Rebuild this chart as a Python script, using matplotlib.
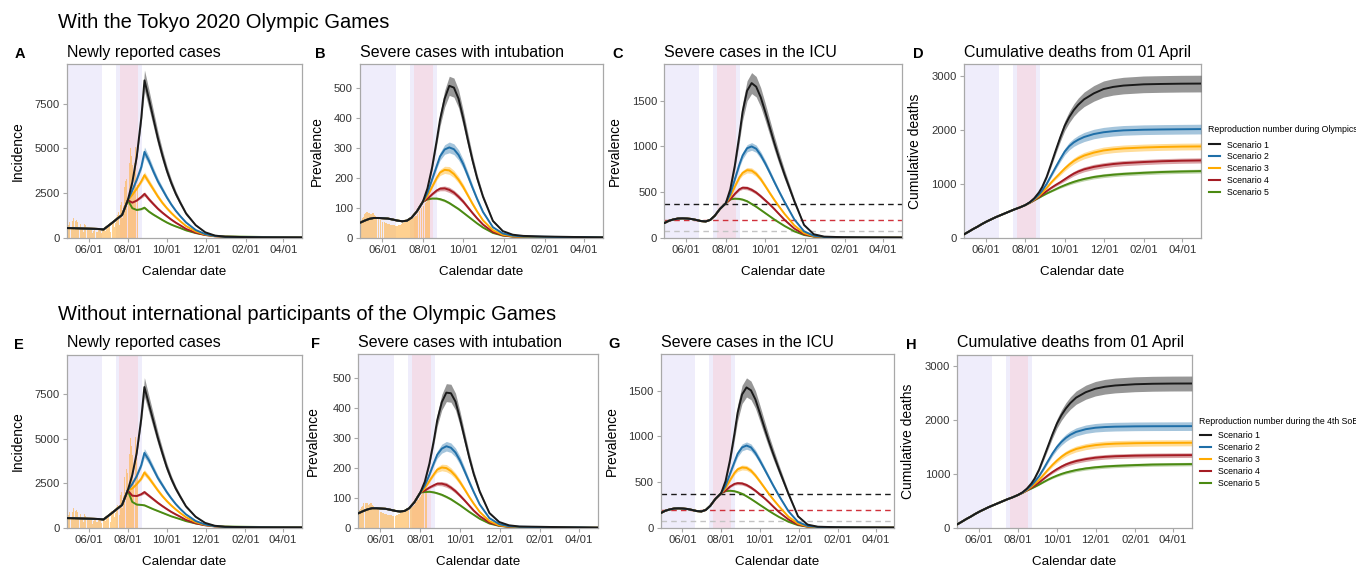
import matplotlib
matplotlib.use('Agg')
import matplotlib.pyplot as plt
import matplotlib.dates as mdates
from matplotlib.lines import Line2D
import numpy as np
import pandas as pd

plt.rcParams['font.family'] = ['Liberation Sans', 'DejaVu Sans']

# ------------------------------------------------------------------ data
pre_dates = ['2021-04-28', '2021-05-05', '2021-05-12', '2021-05-19', '2021-05-26',
             '2021-06-02', '2021-06-09', '2021-06-16', '2021-06-24', '2021-07-01',
             '2021-07-08', '2021-07-15', '2021-07-23']
post_dates = ['2021-08-01', '2021-08-08', '2021-08-15', '2021-08-22', '2021-08-27',
              '2021-09-03', '2021-09-10', '2021-09-17', '2021-09-24', '2021-10-01',
              '2021-10-08', '2021-10-15', '2021-10-22', '2021-10-31', '2021-11-15',
              '2021-11-30', '2021-12-15', '2021-12-31', '2022-01-31', '2022-02-28',
              '2022-03-31', '2022-04-30']
scenarios = ['Scenario 1', 'Scenario 2', 'Scenario 3', 'Scenario 4', 'Scenario 5']

# observed daily new cases (bars in A and E), from 2021-04-28
cases_obs = [925, 1027, 698,
             1050, 879, 708, 609, 621, 591, 907, 1121, 573, 419, 925, 969, 1010, 854, 772, 542,
             419, 732, 766, 843, 618, 535, 521, 340, 743, 597, 684, 614, 539, 411, 260,
             471, 487, 508, 472, 436, 351, 235, 369, 440, 439, 435, 467, 304, 209, 337, 501,
             452, 453, 388, 376, 236, 435, 619, 570, 562, 534, 386, 317, 476, 714,
             673, 660, 716, 518, 342, 593, 920, 896, 822, 950, 614, 502, 830, 1149, 1308, 1271,
             1410, 1008, 727, 1387, 1832, 1979, 1359, 1128, 1763, 1429, 2848, 3177, 3865, 3300, 4058,
             3058, 2195, 3709, 4166, 5042, 4515, 4566, 4066, 2884, 2612, 4200, 4989, 5100, 5094,
             4295, 2962, 4377]
# observed severe cases (bars in B and F), from 2021-04-28
severe_obs = [55, 57, 60,
              63, 66, 70, 74, 78, 82, 84, 86, 85, 84, 83, 82, 80, 78, 79, 80, 82, 84, 80, 76,
              72, 70, 69, 68, 66, 65, 64, 62, 60,
              57, 55, 54, 53, 52, 51, 50, 49, 48, 47, 47, 46, 45, 45, 44, 44, 43, 43, 42, 42,
              41, 40, 40, 39, 39, 40, 41, 42, 43, 44,
              46, 47, 48, 49, 50, 51, 52, 53, 54, 55, 56, 57, 58, 58, 59, 60, 61, 62, 64, 66,
              68, 70, 72, 74, 77, 80, 83, 86, 89, 92, 95,
              98, 101, 104, 107, 110, 113, 116, 118, 120, 122, 124, 126, 128]

# A: newly reported cases, with Olympics
A_pre = [540, 535, 528, 520, 512, 505, 497, 488, 460, 650, 845, 1050, 1270]
A_mid = [[2100, 3100, 4550, 6700, 8800, 7750, 6650, 5550, 4600, 3750, 3050, 2450, 1950, 1350, 700, 300, 120, 55, 35, 25, 18, 12],
         [2100, 2650, 3250, 3950, 4800, 4300, 3700, 3150, 2700, 2250, 1850, 1500, 1200, 850, 430, 200, 95, 50, 35, 25, 18, 12],
         [2100, 2400, 2750, 3150, 3500, 3100, 2700, 2300, 1950, 1650, 1380, 1140, 920, 650, 350, 175, 85, 50, 35, 25, 18, 12],
         [2100, 1960, 2080, 2280, 2450, 2150, 1880, 1620, 1400, 1200, 1010, 840, 690, 490, 280, 150, 80, 50, 38, 28, 20, 14],
         [2100, 1650, 1550, 1600, 1680, 1460, 1290, 1140, 990, 850, 730, 630, 540, 410, 260, 160, 100, 70, 55, 40, 30, 22]]
A_hw = [[0, 40, 120, 300, 580, 520, 450, 380, 320, 260, 210, 170, 130, 100, 50, 25, 10, 5, 3, 2, 2, 1],
        [0, 25, 70, 150, 270, 240, 210, 180, 150, 125, 100, 80, 65, 45, 25, 12, 6, 3, 2, 2, 1, 1],
        [0, 15, 50, 100, 190, 170, 150, 130, 110, 90, 75, 60, 50, 35, 20, 10, 5, 3, 2, 2, 1, 1],
        [0, 10, 35, 70, 120, 110, 95, 85, 75, 65, 55, 45, 38, 28, 15, 8, 4, 3, 2, 2, 1, 1],
        [0, 10, 25, 45, 70, 65, 58, 52, 46, 40, 35, 30, 26, 20, 12, 8, 5, 3, 2, 2, 1, 1]]

# B: severe cases with intubation, with Olympics
B_pre = [50, 57, 63, 66, 66, 65, 64, 61, 57, 55, 57, 67, 88]
B_mid = [[120, 165, 235, 325, 395, 465, 508, 502, 465, 400, 328, 260, 200, 137, 56, 22, 10, 6, 4, 3, 2, 1],
         [120, 150, 195, 240, 272, 295, 302, 296, 277, 247, 208, 168, 130, 86, 35, 14, 7, 4, 3, 2, 2, 1],
         [120, 140, 170, 200, 218, 227, 225, 213, 194, 170, 142, 114, 88, 58, 25, 10, 5, 3, 2, 2, 1, 1],
         [120, 130, 145, 158, 164, 165, 160, 151, 137, 121, 102, 83, 65, 44, 19, 8, 4, 3, 2, 2, 1, 1],
         [120, 128, 131, 131, 129, 124, 116, 106, 96, 84, 72, 60, 48, 34, 16, 7, 4, 3, 2, 2, 1, 1]]
B_hw = [[0, 3, 8, 15, 22, 28, 32, 32, 30, 26, 22, 17, 13, 9, 4, 2, 1, 0, 0, 0, 0, 0],
        [0, 2, 5, 9, 13, 16, 18, 18, 17, 15, 13, 10, 8, 5, 2, 1, 1, 0, 0, 0, 0, 0],
        [0, 1, 4, 7, 10, 12, 13, 12, 11, 10, 8, 7, 5, 3, 2, 1, 0, 0, 0, 0, 0, 0],
        [0, 1, 3, 5, 7, 8, 9, 8, 8, 7, 6, 5, 4, 3, 1, 1, 0, 0, 0, 0, 0, 0],
        [0, 1, 2, 3, 4, 4, 4, 4, 4, 3, 3, 2, 2, 2, 1, 0, 0, 0, 0, 0, 0, 0]]

# C: severe cases in the ICU, with Olympics
C_pre = [160, 185, 200, 210, 212, 210, 205, 195, 182, 178, 195, 240, 315]
C_mid = [[377, 530, 790, 1120, 1380, 1610, 1694, 1655, 1540, 1380, 1210, 1040, 880, 690, 400, 140, 38, 12, 5, 3, 2, 1],
         [377, 480, 640, 800, 900, 980, 1000, 975, 905, 815, 715, 612, 512, 390, 200, 70, 22, 8, 4, 3, 2, 1],
         [377, 450, 560, 660, 710, 740, 735, 700, 642, 567, 490, 415, 345, 260, 135, 50, 17, 7, 4, 3, 2, 1],
         [377, 420, 480, 530, 548, 545, 525, 495, 455, 410, 365, 315, 262, 195, 100, 38, 14, 6, 3, 2, 2, 1],
         [377, 420, 428, 425, 418, 400, 370, 340, 305, 270, 235, 200, 168, 128, 70, 30, 12, 6, 3, 2, 2, 1]]
C_hw = [[0, 15, 40, 70, 95, 110, 115, 112, 105, 95, 85, 75, 65, 52, 30, 10, 3, 1, 0, 0, 0, 0],
        [0, 8, 20, 30, 38, 40, 42, 40, 38, 35, 31, 27, 23, 18, 10, 4, 1, 1, 0, 0, 0, 0],
        [0, 5, 14, 22, 27, 30, 30, 29, 27, 24, 21, 18, 15, 12, 6, 2, 1, 0, 0, 0, 0, 0],
        [0, 4, 10, 15, 18, 20, 20, 19, 18, 16, 14, 12, 10, 8, 4, 2, 1, 0, 0, 0, 0, 0],
        [0, 3, 8, 10, 11, 11, 11, 10, 10, 9, 8, 7, 6, 5, 3, 1, 0, 0, 0, 0, 0, 0]]
C_thresholds = [373, 190, 75]

# D: cumulative deaths, with Olympics
D_pre = [62, 110, 160, 205, 255, 300, 340, 380, 420, 455, 490, 525, 560]
D_mid = [[606, 660, 735, 840, 940, 1130, 1370, 1620, 1860, 2080, 2240, 2370, 2470, 2570, 2680, 2760, 2800, 2825, 2848, 2855, 2860, 2862],
         [606, 655, 720, 800, 875, 1000, 1155, 1310, 1460, 1600, 1700, 1770, 1820, 1870, 1925, 1958, 1978, 1993, 2005, 2010, 2014, 2017],
         [606, 652, 710, 775, 835, 925, 1025, 1115, 1200, 1285, 1360, 1425, 1475, 1525, 1580, 1620, 1642, 1658, 1675, 1685, 1692, 1695],
         [606, 650, 700, 755, 800, 865, 925, 980, 1030, 1085, 1140, 1190, 1230, 1270, 1315, 1345, 1368, 1385, 1405, 1420, 1430, 1435],
         [606, 648, 695, 740, 775, 820, 860, 900, 940, 975, 1008, 1037, 1062, 1090, 1127, 1152, 1170, 1185, 1205, 1220, 1230, 1237]]
D_hw = [[0, 2, 5, 10, 18, 30, 45, 60, 75, 90, 105, 115, 125, 135, 145, 150, 152, 154, 155, 155, 155, 155],
        [0, 2, 4, 8, 12, 20, 30, 40, 50, 60, 70, 75, 80, 85, 88, 90, 90, 90, 90, 90, 90, 90],
        [0, 1, 3, 6, 10, 15, 22, 30, 38, 45, 50, 55, 58, 60, 62, 63, 63, 63, 63, 63, 63, 63],
        [0, 1, 3, 5, 8, 12, 18, 24, 30, 35, 39, 42, 44, 46, 48, 48, 48, 48, 48, 48, 48, 48],
        [0, 1, 2, 4, 6, 9, 13, 17, 21, 25, 28, 30, 32, 34, 35, 36, 36, 36, 36, 36, 36, 36]]

# E: newly reported cases, without international participants
E_pre = [540, 535, 528, 520, 512, 505, 497, 488, 460, 650, 845, 1050, 1270]
E_mid = [[2100, 2950, 4200, 6100, 7900, 6950, 6000, 5050, 4200, 3400, 2750, 2200, 1750, 1200, 620, 270, 110, 50, 32, 24, 17, 12],
         [2100, 2450, 2900, 3500, 4200, 3800, 3300, 2800, 2400, 2000, 1650, 1330, 1060, 750, 380, 180, 85, 45, 32, 24, 17, 12],
         [2100, 2200, 2450, 2750, 3100, 2800, 2450, 2100, 1780, 1500, 1250, 1030, 830, 590, 315, 160, 80, 45, 32, 24, 17, 12],
         [2100, 1800, 1780, 1880, 2000, 1800, 1600, 1400, 1220, 1050, 890, 750, 620, 440, 250, 135, 72, 45, 34, 26, 18, 13],
         [2100, 1450, 1300, 1280, 1260, 1150, 1040, 940, 840, 740, 640, 560, 480, 370, 240, 150, 95, 65, 50, 38, 28, 20]]
E_hw = [[0, 40, 110, 270, 530, 470, 410, 340, 290, 240, 190, 150, 120, 85, 45, 20, 8, 4, 3, 2, 1, 1],
        [0, 20, 60, 130, 240, 215, 190, 160, 135, 110, 90, 72, 58, 40, 22, 10, 5, 3, 2, 2, 1, 1],
        [0, 12, 40, 85, 165, 150, 130, 115, 97, 80, 66, 54, 44, 31, 17, 8, 4, 3, 2, 2, 1, 1],
        [0, 10, 30, 60, 100, 92, 82, 72, 63, 55, 46, 39, 32, 23, 13, 7, 4, 3, 2, 2, 1, 1],
        [0, 8, 20, 32, 45, 42, 38, 34, 30, 26, 23, 20, 17, 13, 8, 5, 3, 2, 2, 1, 1, 1]]

# F: severe cases with intubation, without international participants
F_pre = [49, 56, 62, 66, 66, 65, 64, 61, 57, 55, 57, 66, 86]
F_mid = [[118, 155, 215, 295, 360, 420, 452, 450, 422, 365, 300, 236, 180, 122, 50, 20, 9, 5, 4, 3, 2, 1],
         [118, 142, 178, 218, 245, 265, 273, 268, 252, 225, 190, 154, 120, 79, 33, 13, 6, 4, 3, 2, 2, 1],
         [118, 133, 157, 180, 195, 202, 200, 190, 174, 153, 129, 104, 81, 54, 23, 9, 5, 3, 2, 2, 1, 1],
         [118, 125, 135, 143, 148, 148, 144, 135, 123, 108, 92, 75, 58, 40, 18, 8, 4, 3, 2, 2, 1, 1],
         [118, 120, 121, 119, 116, 111, 104, 96, 86, 76, 65, 54, 44, 31, 15, 7, 4, 3, 2, 2, 1, 1]]
F_hw = [[0, 3, 7, 14, 20, 26, 30, 30, 28, 24, 20, 16, 12, 8, 4, 2, 1, 0, 0, 0, 0, 0],
        [0, 2, 5, 8, 12, 15, 16, 16, 15, 14, 12, 9, 7, 5, 2, 1, 1, 0, 0, 0, 0, 0],
        [0, 1, 4, 6, 9, 11, 12, 11, 10, 9, 7, 6, 5, 3, 2, 1, 0, 0, 0, 0, 0, 0],
        [0, 1, 3, 5, 6, 7, 8, 7, 7, 6, 5, 4, 4, 3, 1, 1, 0, 0, 0, 0, 0, 0],
        [0, 1, 2, 3, 3, 4, 4, 4, 3, 3, 3, 2, 2, 2, 1, 0, 0, 0, 0, 0, 0, 0]]

# G: severe cases in the ICU, without international participants
G_pre = [160, 185, 200, 210, 212, 210, 205, 195, 182, 178, 195, 240, 315]
G_mid = [[377, 510, 740, 1030, 1260, 1460, 1537, 1505, 1405, 1255, 1100, 950, 810, 640, 370, 125, 34, 11, 5, 3, 2, 1],
         [377, 460, 590, 720, 810, 880, 900, 880, 818, 735, 645, 553, 462, 350, 180, 63, 20, 8, 4, 3, 2, 1],
         [377, 435, 520, 600, 640, 660, 655, 625, 572, 507, 440, 372, 310, 235, 120, 45, 15, 6, 4, 3, 2, 1],
         [377, 405, 450, 480, 488, 485, 468, 440, 405, 365, 325, 280, 232, 172, 90, 34, 12, 6, 3, 2, 2, 1],
         [377, 400, 405, 400, 390, 372, 345, 315, 283, 250, 218, 185, 155, 118, 65, 28, 11, 5, 3, 2, 2, 1]]
G_hw = [[0, 14, 36, 65, 88, 100, 105, 102, 96, 88, 78, 68, 60, 48, 28, 10, 3, 1, 0, 0, 0, 0],
        [0, 7, 18, 28, 35, 38, 40, 38, 36, 33, 29, 25, 21, 17, 9, 4, 1, 1, 0, 0, 0, 0],
        [0, 5, 13, 20, 25, 27, 27, 26, 24, 22, 19, 16, 14, 11, 6, 2, 1, 0, 0, 0, 0, 0],
        [0, 4, 9, 14, 17, 18, 18, 17, 16, 15, 13, 11, 9, 7, 4, 2, 1, 0, 0, 0, 0, 0],
        [0, 3, 7, 9, 10, 10, 10, 9, 9, 8, 7, 6, 5, 4, 3, 1, 0, 0, 0, 0, 0, 0]]
G_thresholds = [373, 190, 75]

# H: cumulative deaths, without international participants
H_pre = [62, 110, 160, 205, 255, 300, 340, 380, 420, 455, 490, 525, 560]
H_mid = [[606, 655, 725, 820, 910, 1075, 1290, 1510, 1730, 1930, 2085, 2210, 2310, 2410, 2510, 2575, 2612, 2635, 2658, 2667, 2671, 2672],
         [606, 650, 710, 785, 850, 955, 1090, 1235, 1375, 1495, 1590, 1665, 1722, 1775, 1825, 1852, 1865, 1872, 1878, 1880, 1881, 1882],
         [606, 648, 700, 760, 810, 885, 980, 1075, 1165, 1245, 1315, 1372, 1415, 1458, 1502, 1530, 1547, 1557, 1566, 1570, 1572, 1574],
         [606, 645, 692, 740, 780, 838, 905, 972, 1032, 1085, 1132, 1172, 1203, 1235, 1271, 1297, 1313, 1324, 1335, 1340, 1343, 1345],
         [606, 643, 688, 725, 755, 798, 845, 890, 930, 965, 996, 1022, 1043, 1068, 1098, 1119, 1134, 1145, 1160, 1170, 1175, 1179]]
H_hw = [[0, 2, 5, 10, 17, 28, 42, 56, 70, 84, 97, 107, 115, 123, 130, 134, 136, 137, 138, 138, 138, 138],
        [0, 2, 4, 7, 11, 18, 27, 36, 45, 54, 62, 67, 71, 75, 78, 79, 80, 80, 80, 80, 80, 80],
        [0, 1, 3, 5, 9, 14, 20, 27, 34, 40, 45, 49, 52, 54, 56, 57, 57, 57, 57, 57, 57, 57],
        [0, 1, 3, 5, 7, 11, 16, 21, 26, 31, 35, 38, 40, 41, 43, 43, 43, 43, 43, 43, 43, 43],
        [0, 1, 2, 4, 6, 8, 12, 15, 19, 22, 25, 27, 29, 30, 31, 32, 32, 32, 32, 32, 32, 32]]

# periods (shaded)
soe_periods = [('2021-04-20', '2021-06-21'), ('2021-07-13', '2021-08-23')]
olympic_period = ('2021-07-19', '2021-08-17')

# ------------------------------------------------------------------ style
W, Hpx = 1356, 569
fig = plt.figure(figsize=(W / 100, Hpx / 100), dpi=100)

colors = ['#1a1a1a', '#1f6fa8', '#ffaa00', '#a51c24', '#4b8a12']
band_alpha = [0.45, 0.4, 0.4, 0.4, 0.35]
lav = '#efedfb'
pink = '#f3dde9'
bar_color = '#ffb347'
frame_col = '#a8a8a8'
tick_col = '#333333'

xmin = pd.Timestamp('2021-04-28')
xmax = pd.Timestamp('2022-04-30')
pre_x = pd.to_datetime(pre_dates)
post_x = pd.to_datetime(post_dates)
all_x = pre_x.append(post_x)


def rect(l, r, t, b):
    return [l / W, 1 - b / Hpx, (r - l) / W, (b - t) / Hpx]


def panel(box, pre, mid, hw, ylim, yticks, bars=None, hlines=None):
    ax = fig.add_axes(rect(*box))
    for s, e in soe_periods:
        ax.axvspan(pd.Timestamp(s), pd.Timestamp(e), color=lav, lw=0, zorder=0)
    ax.axvspan(pd.Timestamp(olympic_period[0]), pd.Timestamp(olympic_period[1]),
               color=pink, lw=0, zorder=0.5)
    if bars is not None:
        bx = pd.date_range('2021-04-28', periods=len(bars), freq='D')
        ax.bar(bx, bars, width=0.9, color=bar_color, alpha=0.6, lw=0, zorder=1)
    if hlines is not None:
        for yv, c in zip(hlines, ['#1a1a1a', '#d0313b', '#c4c4c4']):
            ax.axhline(yv, color=c, lw=1.0, ls=(0, (4, 3)), zorder=2)
    for i in range(5):
        m = np.array(mid[i], float)
        h = np.array(hw[i], float)
        ax.fill_between(post_x, m - h, m + h, color=colors[i], alpha=band_alpha[i],
                        lw=0, zorder=3)
    for i in range(4, -1, -1):
        ax.plot(all_x, list(pre) + list(mid[i]), color=colors[i], lw=1.4, zorder=4 + (4 - i),
                solid_capstyle='round', solid_joinstyle='round')
    ax.set_xlim(xmin, xmax)
    ax.set_ylim(*ylim)
    ax.set_yticks(yticks)
    ax.set_yticklabels([str(v) for v in yticks])
    ax.set_xticks(pd.to_datetime(['2021-06-01', '2021-08-01', '2021-10-01', '2021-12-01',
                                  '2022-02-01', '2022-04-01']))
    ax.xaxis.set_major_formatter(mdates.DateFormatter('%m/%d'))
    ax.tick_params(axis='both', labelsize=8.1, colors=frame_col, labelcolor=tick_col,
                   length=3, width=0.8, pad=2)
    for sp in ax.spines.values():
        sp.set_color(frame_col)
        sp.set_linewidth(0.9)
    return ax


def ftext(x, y, s, **kw):
    fig.text(x / W, 1 - y / Hpx, s, **kw)


boxes = {
    'A': (67, 302, 64.3, 237.7), 'B': (360, 602.7, 64.3, 237.7),
    'C': (664.3, 901.7, 64.3, 237.7), 'D': (964, 1201, 64.3, 237.7),
    'E': (67, 301.7, 355, 527.7), 'F': (358.3, 597.7, 354.3, 528),
    'G': (660.7, 894, 354.3, 527.7), 'H': (957.3, 1191.7, 355, 527.7),
}

axA = panel(boxes['A'], A_pre, A_mid, A_hw, (0, 9700), [0, 2500, 5000, 7500], bars=cases_obs)
axB = panel(boxes['B'], B_pre, B_mid, B_hw, (0, 580), [0, 100, 200, 300, 400, 500], bars=severe_obs)
axC = panel(boxes['C'], C_pre, C_mid, C_hw, (0, 1900), [0, 500, 1000, 1500], hlines=C_thresholds)
axD = panel(boxes['D'], D_pre, D_mid, D_hw, (0, 3220), [0, 1000, 2000, 3000])
axE = panel(boxes['E'], E_pre, E_mid, E_hw, (0, 9700), [0, 2500, 5000, 7500], bars=cases_obs)
axF = panel(boxes['F'], F_pre, F_mid, F_hw, (0, 580), [0, 100, 200, 300, 400, 500], bars=severe_obs)
axG = panel(boxes['G'], G_pre, G_mid, G_hw, (0, 1900), [0, 500, 1000, 1500], hlines=G_thresholds)
axH = panel(boxes['H'], H_pre, H_mid, H_hw, (0, 3200), [0, 1000, 2000, 3000])

# row titles
ftext(58, 22, 'With the Tokyo 2020 Olympic Games', fontsize=14.5, va='center', ha='left')
ftext(58, 314, 'Without international participants of the Olympic Games', fontsize=14.5,
      va='center', ha='left')

titles = {'A': 'Newly reported cases', 'B': 'Severe cases with intubation',
          'C': 'Severe cases in the ICU', 'D': 'Cumulative deaths from 01 April',
          'E': 'Newly reported cases', 'F': 'Severe cases with intubation',
          'G': 'Severe cases in the ICU', 'H': 'Cumulative deaths from 01 April'}
letter_x = {'A': 20, 'B': 320, 'C': 618, 'D': 918, 'E': 19, 'F': 315, 'G': 614, 'H': 911}
ylab = {'A': 'Incidence', 'B': 'Prevalence', 'C': 'Prevalence', 'D': 'Cumulative deaths',
        'E': 'Incidence', 'F': 'Prevalence', 'G': 'Prevalence', 'H': 'Cumulative deaths'}
ylab_x = {'A': 18, 'B': 317, 'C': 615, 'D': 915, 'E': 18, 'F': 313, 'G': 612, 'H': 908}

for k, (l, r, t, b) in boxes.items():
    ty = t - 12
    ftext(l, ty, titles[k], fontsize=11.5, va='center', ha='left')
    ftext(letter_x[k], ty + 2, k, fontsize=10.5, fontweight='bold', va='center', ha='center')
    ftext(ylab_x[k], (t + b) / 2, ylab[k], fontsize=10, rotation=90, va='center', ha='center')
    ftext((l + r) / 2, b + 34, 'Calendar date', fontsize=9.6, va='center', ha='center')

# legends (title as separate text, entries as legend)
handles = [Line2D([0], [0], color=c, lw=1.5) for c in colors]
common = dict(loc='upper left', bbox_transform=fig.transFigure, frameon=False, fontsize=6.3,
              handlelength=1.3, handletextpad=0.75, labelspacing=0.32, borderpad=0,
              borderaxespad=0)
ftext(1208, 130, 'Reproduction number during Olympics', fontsize=6.3, va='center', ha='left')
axD.legend(handles, scenarios, bbox_to_anchor=(1209 / W, 1 - 140.5 / Hpx), **common)
ftext(1199, 421.7, 'Reproduction number during the 4th SoE', fontsize=6.3, va='center', ha='left')
axH.legend(handles, scenarios, bbox_to_anchor=(1200 / W, 1 - 431.5 / Hpx), **common)

fig.savefig('out.png', dpi=100)
